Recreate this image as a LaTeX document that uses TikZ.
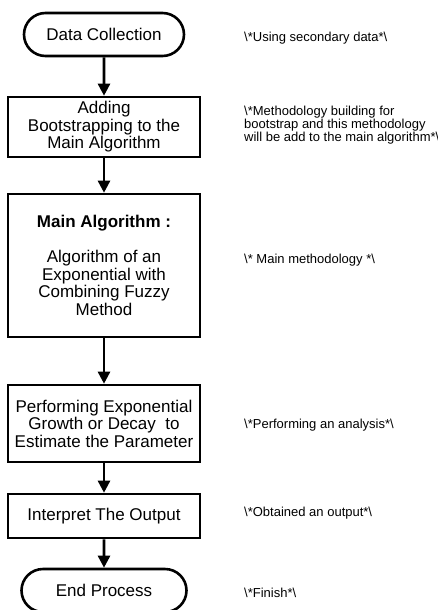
\documentclass[tikz,border=0pt]{standalone}
\usepackage{fontspec}
\setmainfont{Liberation Sans}
\usetikzlibrary{arrows.meta,shapes.misc}
\begin{document}
\begin{tikzpicture}[x=1pt,y=-1pt,
  boxstyle/.style={draw=black,line width=2.6pt,rectangle,minimum width=192pt,align=center,inner sep=0pt,
     font=\fontsize{17}{17.5}\selectfont},
  termstyle/.style={draw=black,line width=2.6pt,rounded rectangle,minimum height=43pt,align=center,inner sep=0pt,
     font=\fontsize{17}{17.5}\selectfont},
  notestyle/.style={anchor=west,align=left,inner sep=0pt,font=\fontsize{13}{13}\selectfont},
  flow/.style={line width=2.6pt,-{Triangle[width=12pt,length=12pt]}}]
\fill[white] (0,0) rectangle (438,610);
\useasboundingbox (0,0) rectangle (438,610);
\node[termstyle,minimum width=160pt] (dc) at (104,34.5) {Data Collection};
\node[boxstyle,minimum height=60pt] (b2) at (104,127) {Adding\\Bootstrapping to the\\Main Algorithm};
\node[boxstyle,minimum height=143pt] (b3) at (104,265.5) {\textbf{Main Algorithm :}\\[17.5pt]Algorithm of an\\Exponential with\\Combining Fuzzy\\Method};
\node[boxstyle,minimum height=77pt] (b4) at (104,423.5) {Performing Exponential\\Growth or Decay\ \ to\\Estimate the Parameter};
\node[boxstyle,minimum height=44pt] (b5) at (104,516) {Interpret The Output};
\node[termstyle,minimum width=165pt] (ep) at (104,590.5) {End Process};
\draw[flow] (dc) -- (b2);
\draw[flow] (b2) -- (b3);
\draw[flow] (b3) -- (b4);
\draw[flow] (b4) -- (b5);
\draw[flow] (b5) -- (ep);
\node[notestyle] (n1) at (244,38) {\textbackslash*Using secondary data*\textbackslash};
\node[notestyle] (n2) at (244,125) {\textbackslash*Methodology building for\\bootstrap and this methodology\\will be add to the main algorithm*\textbackslash};
\node[notestyle] (n3) at (244,260) {\textbackslash* Main methodology *\textbackslash};
\node[notestyle] (n4) at (244,425) {\textbackslash*Performing an analysis*\textbackslash};
\node[notestyle] (n5) at (244,513) {\textbackslash*Obtained an output*\textbackslash};
\node[notestyle] (n6) at (244,593) {\textbackslash*Finish*\textbackslash};
\end{tikzpicture}
\end{document}
